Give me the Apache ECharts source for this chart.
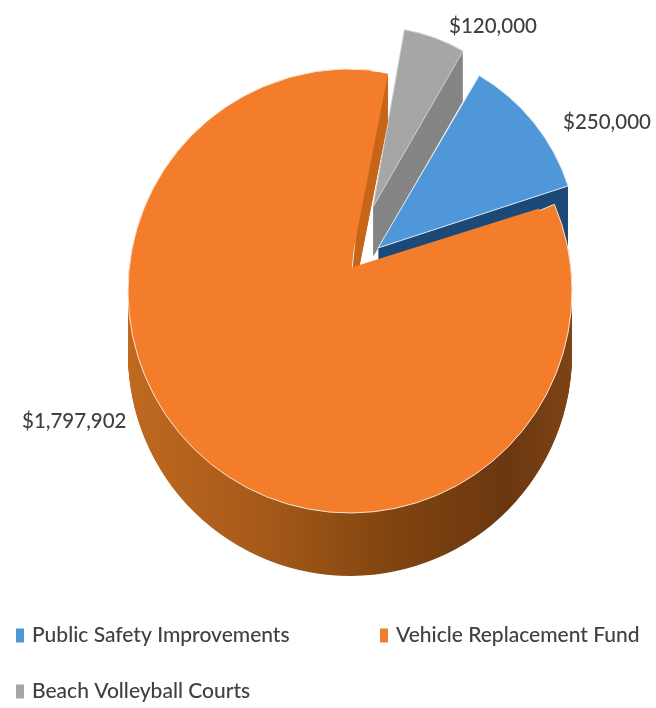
<!DOCTYPE html>
<html>
<head>
<meta charset="utf-8">
<title>Pie</title>
<style>
	html, body { margin: 0; padding: 0; background: #fff; }
	#main { width: 656px; height: 708px; }
</style>
<script src="https://cdn.jsdelivr.net/npm/echarts@6/dist/echarts.min.js"></script>
</head>
<body>
<div id="main"></div>
<script>
	var categories = ['Public Safety Improvements', 'Vehicle Replacement Fund', 'Beach Volleyball Courts'];
	var amounts = [250000, 1797902, 120000];

	var topColors = ['#4f97d9', '#f37d2b', '#a6a6a6'];
	var fontName = 'Lato, "Open Sans", sans-serif';
	var textColor = '#404040';

	function money(v) {
		return '$' + String(v).replace(/\B(?=(\d{3})+$)/g, ',');
	}

	// one pie, only slice "idx" is painted, the others stay empty
	function slicePie(idx, cx, cy, r, cw0, color, extra) {
		extra = extra || {};
		return {
			type: 'pie',
			silent: true,
			animation: false,
			center: [cx, cy],
			radius: [0, r],
			startAngle: 90 - cw0,
			clockwise: true,
			avoidLabelOverlap: false,
			labelLine: { show: false },
			labelLayout: extra.labelLayout,
			data: categories.map(function(name, i) {
				var on = i === idx;
				return {
					name: name,
					value: amounts[i],
					itemStyle: on ? {
						color: color,
						borderColor: extra.border || 'transparent',
						borderWidth: extra.border ? 1 : 0
					} : { color: 'transparent', borderWidth: 0 },
					label: (on && extra.labelLayout) ? {
						show: true,
						position: 'outside',
						formatter: function() { return money(amounts[i]); },
						fontFamily: fontName,
						fontSize: 20.5,
						fontWeight: 500,
						color: textColor
					} : { show: false }
				};
			})
		};
	}

	// side wall, a stack of the same slice moved down one pixel at a time
	function wall(idx, cx, cy, r, cw0, depth, color) {
		var list = [];
		for (var d = depth; d > 0; d--) {
			list.push(slicePie(idx, cx, cy + d, r, cw0, color));
		}
		return list;
	}

	var brownWall = new echarts.graphic.LinearGradient(0, 0, 1, 0, [
		{ offset: 0, color: '#c0691f' },
		{ offset: 0.3, color: '#a65a1a' },
		{ offset: 0.6, color: '#80440f' },
		{ offset: 0.85, color: '#6b3710' },
		{ offset: 1, color: '#7d4414' }
	]);

	var series = [];
	// gray slice
	series = series.concat(wall(2, 373, 207, 180, 30, 50, '#858585'));
	series.push(slicePie(2, 373, 207, 180, 30, topColors[2], {
		border: '#d0d0d0',
		labelLayout: { x: 449, y: 26, align: 'left', verticalAlign: 'middle' }
	}));
	// blue slice
	series = series.concat(wall(0, 378, 248, 200, 30.4, 60, '#1d4a78'));
	series.push(slicePie(0, 378, 248, 200, 30.4, topColors[0], {
		border: '#dfeaf5',
		labelLayout: { x: 563, y: 122, align: 'left', verticalAlign: 'middle' }
	}));
	// orange slice, wider disc plus a smaller one that sets the tip
	series = series.concat(wall(1, 350, 291, 222, 25.5, 63, brownWall));
	series = series.concat(wall(1, 350, 268, 198, 31, 47, '#c8661c'));
	series.push(slicePie(1, 350, 291, 222, 25.5, topColors[1], {
		border: '#fbe3cf',
		labelLayout: { x: 22, y: 421, align: 'left', verticalAlign: 'middle' }
	}));
	series.push(slicePie(1, 350, 268, 198, 31, topColors[1]));

	function legendAt(i, left, top) {
		return {
			left: left,
			top: top,
			orient: 'horizontal',
			selectedMode: false,
			padding: 0,
			itemWidth: 8,
			itemHeight: 14,
			itemGap: 8,
			data: [{ name: categories[i], icon: 'rect', itemStyle: { color: topColors[i], borderWidth: 0 } }],
			textStyle: { fontFamily: fontName, fontSize: 21, fontWeight: 500, color: textColor, padding: [0, 0, 0, 3] }
		};
	}

	var chart = echarts.init(document.getElementById('main'), null, { renderer: 'canvas' });
	chart.setOption({
		backgroundColor: '#ffffff',
		animation: false,
		legend: [legendAt(0, 16, 625), legendAt(1, 380, 625), legendAt(2, 16, 681)],
		series: series
	});
</script>
</body>
</html>
